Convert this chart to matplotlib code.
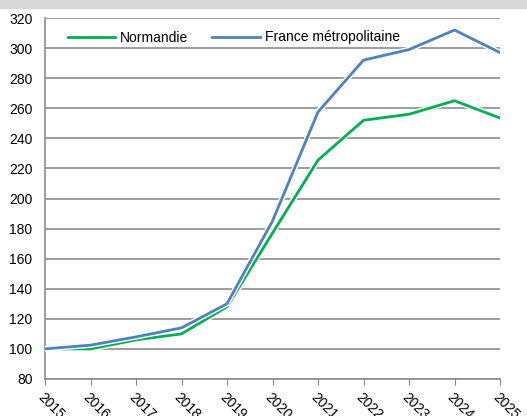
import numpy as np
import matplotlib.pyplot as plt
import matplotlib.patheffects as pe
from matplotlib.patches import Rectangle

years = [2015, 2016, 2017, 2018, 2019, 2020, 2021, 2022, 2023, 2024, 2025]
normandie = [100, 100, 106, 110, 128, 177, 225.5, 252, 256, 265, 253.5]
france = [100, 102.5, 108, 114, 130, 185, 257.5, 292, 299, 312, 297]
yticks = list(range(80, 321, 20))

plt.rcParams['font.family'] = ['Liberation Sans', 'DejaVu Sans']

fig = plt.figure(figsize=(5.27, 4.16), dpi=100)
fig.patches.append(Rectangle((0, 1 - 8 / 416), 1, 8 / 416, transform=fig.transFigure,
                             color='#d9d9d9', zorder=0))
ax = fig.add_axes([45 / 527, 1 - 379 / 416, 455 / 527, 361 / 416])

outline = [pe.Stroke(linewidth=4, foreground='white'), pe.Normal()]
ax.plot(years, normandie, color='#00b050', lw=2, label='Normandie', path_effects=outline, zorder=3)
ax.plot(years, france, color='#4f81bd', lw=2, label='France métropolitaine', path_effects=outline, zorder=3)

ax.set_xlim(2015, 2025)
ax.set_ylim(80, 320)
ax.set_yticks(yticks)
ax.set_xticks(years)
ax.set_xticklabels([str(y) for y in years], rotation=-45, ha='left', va='top',
                   rotation_mode='anchor', fontsize=10)
ax.tick_params(axis='y', length=0, labelsize=10, pad=9)
ax.tick_params(axis='x', length=4, color='#888888', pad=4)
ax.grid(axis='y', color='#8c8c8c', lw=1.2)
ax.set_axisbelow(True)
for s in ['top', 'right']:
    ax.spines[s].set_visible(False)
for s in ['left', 'bottom']:
    ax.spines[s].set_color('#8c8c8c')
    ax.spines[s].set_linewidth(1.2)

ax.legend(loc='upper left', bbox_to_anchor=(0.022, 1.0), ncol=2, frameon=False,
          handlelength=3.45, columnspacing=1.7, fontsize=10, handletextpad=0.35)

fig.savefig('out.png', dpi=100)
